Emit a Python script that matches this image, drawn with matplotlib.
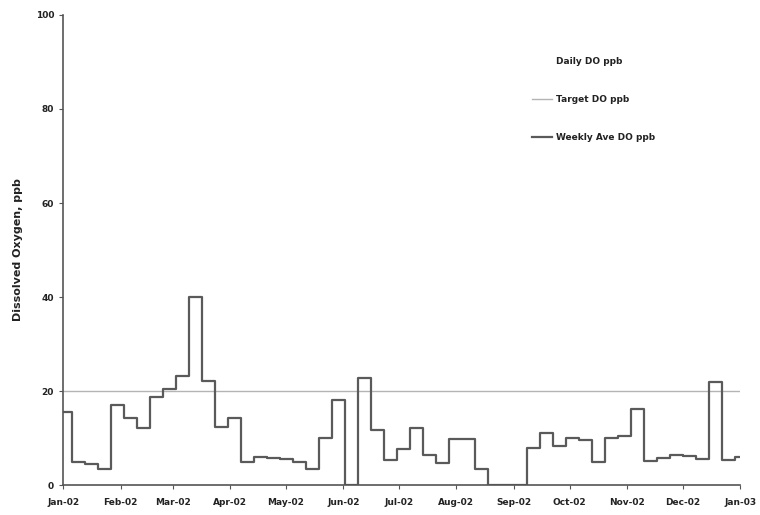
import matplotlib

matplotlib.use("Agg")
import matplotlib.pyplot as plt
import matplotlib.dates as mdates
import numpy as np

# weekly averages, value applies from the start date onward (step)
week_start = [
    "2002-01-01", "2002-01-06", "2002-01-13", "2002-01-20", "2002-01-27",
    "2002-02-03", "2002-02-10", "2002-02-17", "2002-02-24", "2002-03-03",
    "2002-03-10", "2002-03-17", "2002-03-24", "2002-03-31", "2002-04-07",
    "2002-04-14", "2002-04-21", "2002-04-28", "2002-05-05", "2002-05-12",
    "2002-05-19", "2002-05-26", "2002-06-02", "2002-06-09", "2002-06-16",
    "2002-06-23", "2002-06-30", "2002-07-07", "2002-07-14", "2002-07-21",
    "2002-07-28", "2002-08-04", "2002-08-11", "2002-08-18", "2002-08-25",
    "2002-09-01", "2002-09-08", "2002-09-15", "2002-09-22", "2002-09-29",
    "2002-10-06", "2002-10-13", "2002-10-20", "2002-10-27", "2002-11-03",
    "2002-11-10", "2002-11-17", "2002-11-24", "2002-12-01", "2002-12-08",
    "2002-12-15", "2002-12-22", "2002-12-29", "2003-01-01",
]
weekly_do = [
    15.5, 5.0, 4.5, 3.5, 17.0,
    14.3, 12.1, 18.7, 20.5, 23.3,
    40.0, 22.1, 12.3, 14.2, 5.0,
    5.9, 5.8, 5.6, 5.0, 3.5,
    10.1, 18.1, 0.0, 22.7, 11.8,
    5.3, 7.6, 12.2, 6.4, 4.8,
    9.8, 9.8, 3.4, 0.0, 0.0,
    0.0, 7.8, 11.0, 8.3, 10.1,
    9.6, 5.0, 10.1, 10.4, 16.1,
    5.1, 5.8, 6.4, 6.2, 5.5,
    22.0, 5.3, 6.0, 6.0,
]
target_dates = ["2002-01-01", "2003-01-01"]
target_do = [20, 20]

month_ticks = [f"2002-{m:02d}-01" for m in range(1, 13)] + ["2003-01-01"]

dates = np.array(week_start, dtype="datetime64[D]")
fig = plt.figure(figsize=(7.6, 5.15), dpi=100)
ax = fig.add_axes([0.083, 0.058, 0.891, 0.913])

ax.plot([], [], color="none", label="Daily DO ppb")
ax.plot(np.array(target_dates, dtype="datetime64[D]"), target_do,
        color="#b4b4b4", lw=1.0, label="Target DO ppb")
ax.plot(dates, weekly_do, drawstyle="steps-post", color="#5a5a5a", lw=1.6,
        label="Weekly Ave DO ppb")

ax.set_xlim(np.datetime64("2002-01-01"), np.datetime64("2003-01-01"))
ax.set_ylim(0, 100)
ax.set_yticks([0, 20, 40, 60, 80, 100])
ax.set_xticks(np.array(month_ticks, dtype="datetime64[D]"))
ax.xaxis.set_major_formatter(mdates.DateFormatter("%b-%y"))

for s in ("top", "right"):
    ax.spines[s].set_visible(False)
for s in ("left", "bottom"):
    ax.spines[s].set_color("#555555")
    ax.spines[s].set_linewidth(1.2)
ax.tick_params(axis="both", labelsize=6.5, length=3, color="#555555", labelcolor="#222222")
for lbl in ax.get_xticklabels() + ax.get_yticklabels():
    lbl.set_fontweight("bold")
ax.tick_params(axis="x", pad=6)

ax.set_ylabel("Dissolved Oxygen, ppb", fontsize=8, fontweight="bold", color="#222222", labelpad=9)

leg = ax.legend(loc="upper left", bbox_to_anchor=(0.68, 0.927), frameon=False,
                fontsize=6.5, labelspacing=3.2, handlelength=2.2, handletextpad=0.5)
for t in leg.get_texts():
    t.set_fontweight("bold")
    t.set_color("#222222")

fig.savefig("out.png", dpi=100, facecolor="white")
